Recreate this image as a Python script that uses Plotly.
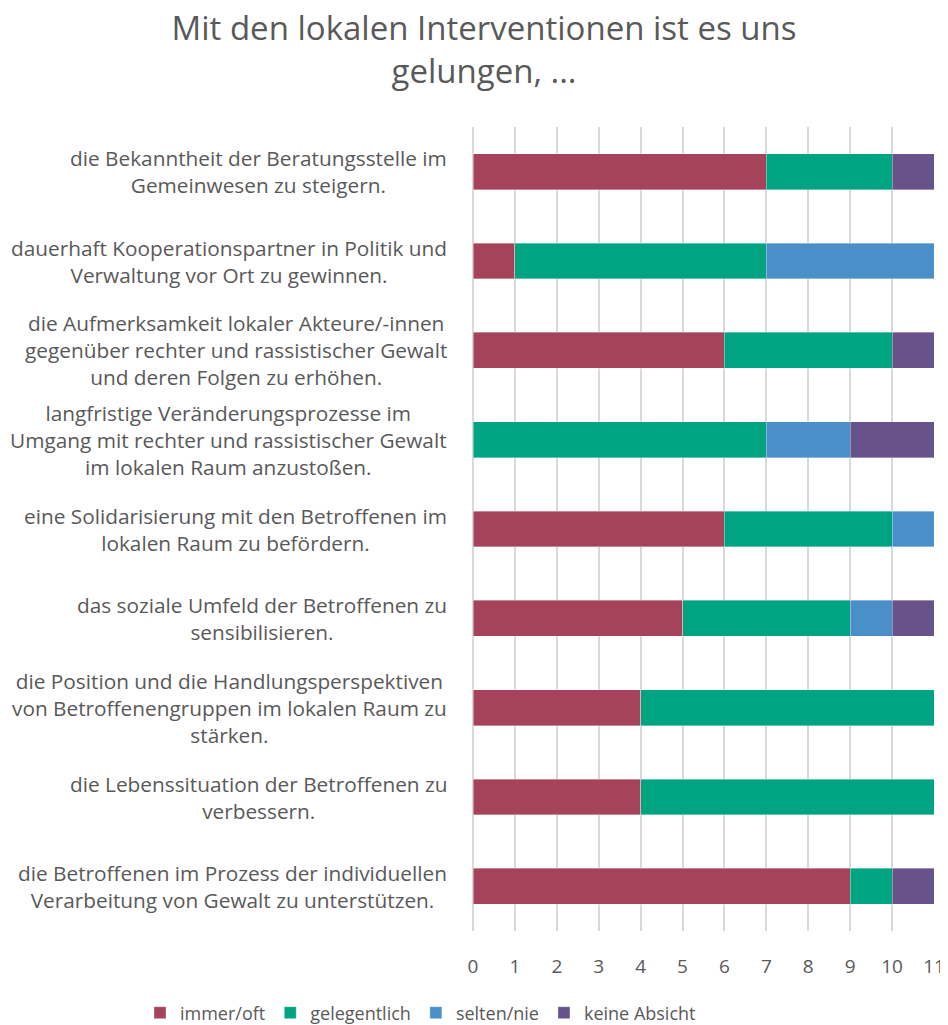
import plotly.graph_objects as go

categories = [
    "die Bekanntheit der Beratungsstelle im<br>Gemeinwesen zu steigern.",
    "dauerhaft Kooperationspartner in Politik und<br>Verwaltung vor Ort zu gewinnen.",
    "die Aufmerksamkeit lokaler Akteure/-innen<br>gegenüber rechter und rassistischer Gewalt<br>und deren Folgen zu erhöhen.",
    "langfristige Veränderungsprozesse im<br>Umgang mit rechter und rassistischer Gewalt<br>im lokalen Raum anzustoßen.",
    "eine Solidarisierung mit den Betroffenen im<br>lokalen Raum zu befördern.",
    "das soziale Umfeld der Betroffenen zu<br>sensibilisieren.",
    "die Position und die Handlungsperspektiven<br>von Betroffenengruppen im lokalen Raum zu<br>stärken.",
    "die Lebenssituation der Betroffenen zu<br>verbessern.",
    "die Betroffenen im Prozess der individuellen<br>Verarbeitung von Gewalt zu unterstützen.",
]

immer_oft = [7, 1, 6, 0, 6, 5, 4, 4, 9]
gelegentlich = [3, 6, 4, 7, 4, 4, 7, 7, 1]
selten_nie = [0, 4, 0, 2, 1, 1, 0, 0, 0]
keine_absicht = [1, 0, 1, 2, 0, 1, 0, 0, 1]

series = [
    ("immer/oft", immer_oft, "#A5435A"),
    ("gelegentlich", gelegentlich, "#00A482"),
    ("selten/nie", selten_nie, "#4A8FC8"),
    ("keine Absicht", keine_absicht, "#67528A"),
]

x_ticks = list(range(0, 12))

FONT = "Open Sans"
TXT = "#595959"

# page is rendered with an 8px body margin
OFF = 8
W, H = 948 - OFF, 1025 - OFF
ML, MR, MT, MB = 473 - OFF, 14, 127 - OFF, 1025 - 931
plot_w = W - ML - MR
plot_h = H - MT - MB
label_right = 449 - OFF

fig = go.Figure()
for name, vals, color in series:
    fig.add_trace(go.Bar(
        y=list(range(len(categories))), x=vals, name=name, orientation="h",
        marker=dict(color=color, line=dict(color="rgba(255,255,255,0.6)", width=0.6)),
    ))

for i, cat in enumerate(categories):
    fig.add_annotation(
        x=(label_right - ML) / plot_w, xref="paper", xanchor="right",
        y=i, yref="y", yanchor="middle",
        text=cat, showarrow=False, align="center",
        font=dict(family=FONT, size=20.8, color=TXT),
    )

legend_left = 140 - OFF
legend_mid = 1013 - OFF
fig.update_layout(
    width=W, height=H,
    paper_bgcolor="white", plot_bgcolor="white",
    barmode="stack", bargap=0.6,
    margin=dict(l=ML, r=MR, t=MT, b=MB, autoexpand=False),
    title=dict(
        text="Mit den lokalen Interventionen ist es uns<br>gelungen, ...",
        x=(484 - OFF) / W, xanchor="center", y=1 - 32 / H, yanchor="top",
        font=dict(family=FONT, size=33, color=TXT),
    ),
    font=dict(family=FONT, color=TXT),
    legend=dict(
        orientation="h", xref="paper", x=(legend_left - ML) / plot_w, xanchor="left",
        yref="paper", y=(H - MB - legend_mid) / plot_h, yanchor="middle",
        font=dict(family=FONT, size=18, color=TXT),
        traceorder="normal", itemclick=False, itemwidth=30,
        bgcolor="rgba(0,0,0,0)",
    ),
    showlegend=True,
)

fig.update_xaxes(
    range=[0, 11], tickvals=x_ticks, ticktext=[str(v) for v in x_ticks],
    showgrid=True, gridcolor="#D9D9D9", gridwidth=1.5,
    zeroline=True, zerolinecolor="#D9D9D9", zerolinewidth=1.5,
    showline=False, ticks="", tickfont=dict(family=FONT, size=19, color=TXT),
    ticklabelstandoff=22, automargin=False,
)
fig.update_yaxes(
    range=[len(categories) - 0.5, -0.5], showticklabels=False,
    showgrid=False, zeroline=False, showline=False, automargin=False,
)

fig.write_html("out.html")
